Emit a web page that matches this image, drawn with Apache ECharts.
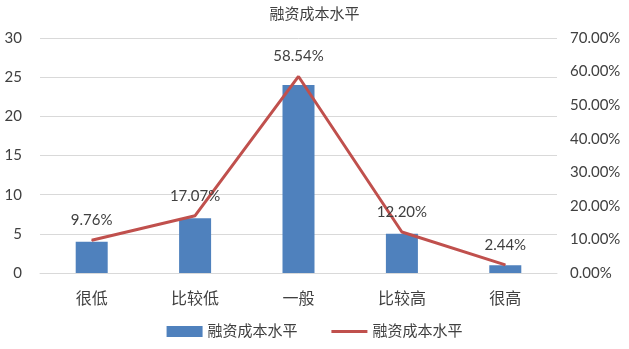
<!DOCTYPE html>
<html><head><meta charset="utf-8">
<script src="https://cdn.jsdelivr.net/npm/echarts@6/dist/echarts.min.js"></script>
<style>html,body{margin:0;padding:0;background:#fff}#c{width:629px;height:349px}</style>
</head><body><div id="c"></div>
<script>
const categories = ['很低','比较低','一般','比较高','很高'];
const counts = [4, 7, 24, 5, 1];
const percents = [9.76, 17.07, 58.54, 12.20, 2.44];
const seriesName = '融资成本水平';
const font = 'Lato,"Noto Sans CJK SC",sans-serif';
const chart = echarts.init(document.getElementById('c'));
chart.setOption({
  animation: false,
  title: {text: seriesName, left: 'center', top: 2, textStyle: {fontSize: 15, fontWeight: 'normal', color: '#404040', fontFamily: font}},
  grid: {left: 40, right: 72, top: 38, bottom: 76},
  legend: {bottom: 5, left: 'center', itemGap: 30, itemWidth: 36, itemHeight: 11,
    textStyle: {fontSize: 15, color: '#404040', fontFamily: font},
    data: [{name: seriesName + ' ', icon: 'rect'}, {name: seriesName, icon: 'path://M0,0 L36,0 L36,3 L0,3 Z'}]},
  xAxis: {type: 'category', data: categories, axisTick: {show: false},
    axisLine: {lineStyle: {color: '#d9d9d9'}},
    axisLabel: {fontSize: 16, color: '#404040', margin: 18, fontFamily: font}},
  yAxis: [
    {type: 'value', min: 0, max: 30, interval: 5, splitLine: {lineStyle: {color: '#d9d9d9'}},
      axisLabel: {fontSize: 15, color: '#404040', margin: 18, fontFamily: font}},
    {type: 'value', min: 0, max: 70, interval: 10, splitLine: {show: false},
      axisLabel: {fontSize: 15, color: '#404040', margin: 13, fontFamily: font, formatter: v => v.toFixed(2) + '%'}}
  ],
  series: [
    {name: seriesName + ' ', type: 'bar', data: counts, barWidth: 32, itemStyle: {color: '#4F81BD'}},
    {name: seriesName, type: 'line', yAxisIndex: 1, data: percents, symbol: 'circle', symbolSize: 1, showSymbol: true,
      lineStyle: {color: '#C0504D', width: 3}, itemStyle: {color: '#C0504D'},
      label: {show: true, position: 'top', distance: 12, fontSize: 15, color: '#404040', fontFamily: font, formatter: p => p.value.toFixed(2) + '%'}}
  ]
});
</script></body></html>
